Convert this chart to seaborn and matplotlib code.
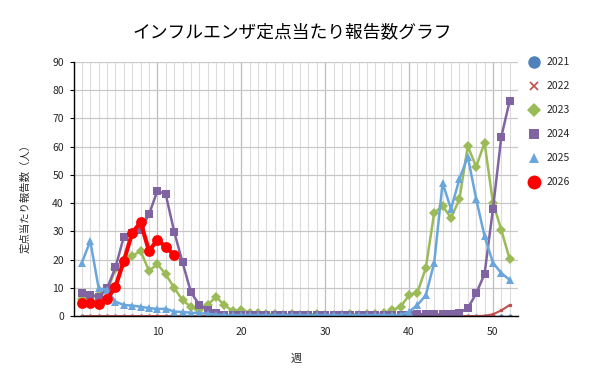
import matplotlib
matplotlib.use("Agg")
import matplotlib.pyplot as plt
from matplotlib.lines import Line2D
from matplotlib.ticker import MultipleLocator
import seaborn as sns
import pandas as pd

weeks = list(range(1, 53))

y2021 = [0, 0, 0, 0, 0, 0, 0, 0, 0, 0, 0, 0, 0, 0, 0, 0, 0, 0, 0, 0, 0, 0, 0, 0, 0, 0,
         0, 0, 0, 0, 0, 0, 0, 0, 0, 0, 0, 0, 0, 0, 0, 0, 0, 0, 0, 0, 0, 0, 0, 0, 0, 0]
y2022 = [0, 0, 0, 0, 0, 0, 0, 0, 0, 0, 0, 0, 0, 0, 0, 0, 0, 0, 0, 0, 0, 0, 0, 0, 0, 0,
         0, 0, 0, 0, 0, 0, 0, 0, 0, 0, 0, 0, 0, 0, 0, 0, 0, 0, 0, 0, 0, 0, 0.1, 0.6, 2.0, 3.9]
y2023 = [6.0, 6.8, 7.5, 8.5, 16.8, 18.9, 21.3, 23.0, 16.0, 18.4, 14.8, 10.0, 5.6, 3.3,
         2.0, 4.0, 6.8, 3.8, 1.8, 2.2, 1.2, 1.0, 0.6, 0.8, 0.4, 0.7, 0.4, 0.5, 0.7, 0.4,
         0.5, 0.4, 0.7, 0.5, 0.7, 0.6, 1.0, 2.1, 3.3, 7.4, 8.3, 17.1, 36.6, 39.0, 34.8,
         41.3, 60.2, 52.9, 61.4, 40.2, 30.5, 20.1]
y2024 = [8.3, 7.4, 6.8, 9.8, 17.2, 28.1, 29.5, 30.5, 36.0, 44.4, 43.1, 29.9, 19.0, 8.4,
         4.0, 2.3, 1.1, 0.4, 0.3, 0.2, 0.2, 0.2, 0.2, 0.2, 0.2, 0.2, 0.2, 0.2, 0.2, 0.2,
         0.3, 0.4, 0.3, 0.2, 0.2, 0.2, 0.2, 0.2, 0.2, 0.2, 0.7, 0.7, 0.6, 0.6, 0.6, 1.2,
         2.7, 8.0, 14.9, 37.9, 63.5, 76.3]
y2025 = [18.9, 26.6, 9.8, 9.3, 5.1, 3.9, 3.7, 3.3, 2.8, 2.5, 2.6, 1.6, 1.4, 1.2, 1.0,
         0.8, 0.5, 0.3, 0.3, 0.3, 0.3, 0.3, 0.3, 0.3, 0.3, 0.3, 0.3, 0.3, 0.3, 0.3, 0.3,
         0.3, 0.3, 0.3, 0.3, 0.3, 0.3, 0.3, 0.4, 1.5, 3.9, 7.4, 18.9, 47.2, 37.9, 48.5,
         56.5, 41.5, 28.3, 18.9, 15.2, 12.8]
y2026 = [4.7, 4.7, 4.1, 5.9, 10.4, 19.5, 29.5, 33.2, 23.1, 26.9, 24.6, 21.6]

years = ["2021", "2022", "2023", "2024", "2025", "2026"]
series = [y2021, y2022, y2023, y2024, y2025, y2026]

title = "インフルエンザ定点当たり報告数グラフ"
xlabel = "週"
ylabel = "定点当たり報告数（人）"

colors = {"2021": "#4f81bd", "2022": "#c0504d", "2023": "#9bbb59",
          "2024": "#8064a2", "2025": "#6aa5dc", "2026": "#ff0000"}
markers = {"2021": "o", "2022": "x", "2023": "D", "2024": "s", "2025": "^", "2026": "o"}
msizes = {"2021": 3, "2022": 2, "2023": 5.5, "2024": 5.5, "2025": 6, "2026": 7.8}
lwidths = {"2021": 1.0, "2022": 1.5, "2023": 1.8, "2024": 1.8, "2025": 1.8, "2026": 3.0}
legend_ms = {"2021": 9, "2022": 6, "2023": 7, "2024": 7, "2025": 7.5, "2026": 10}

rows = []
for yr, vals in zip(years, series):
    for w, v in zip(weeks, vals):
        rows.append({"week": w, "value": v, "year": yr})
df = pd.DataFrame(rows)

sns.set_theme(style="white")
plt.rcParams["font.family"] = ["Noto Sans CJK JP", "DejaVu Sans"]

fig = plt.figure(figsize=(6, 3.84), dpi=100)
ax = fig.add_axes([0.1225, 0.177, 0.741, 0.6615])

for i, yr in enumerate(years):
    sub = df[df["year"] == yr]
    sns.lineplot(data=sub, x="week", y="value", ax=ax, color=colors[yr],
                 marker=markers[yr], markersize=msizes[yr], linewidth=lwidths[yr],
                 markeredgewidth=0 if markers[yr] != "x" else 1,
                 markeredgecolor=colors[yr], zorder=3 + i, legend=False)

ax.set_xlim(0, 53)
ax.set_ylim(0, 90)
ax.xaxis.set_major_locator(MultipleLocator(10))
ax.xaxis.set_minor_locator(MultipleLocator(1))
ax.yaxis.set_major_locator(MultipleLocator(10))
ax.set_xticks([10, 20, 30, 40, 50])
ax.grid(which="major", axis="y", color="#c8c8c8", linewidth=0.9)
ax.grid(which="major", axis="x", color="#bdbdbd", linewidth=0.9)
ax.grid(which="minor", axis="x", color="#dcdcdc", linewidth=0.8)
ax.set_axisbelow(True)
for s in ["top", "right"]:
    ax.spines[s].set_visible(False)
for s in ["left", "bottom"]:
    ax.spines[s].set_color("black")
    ax.spines[s].set_linewidth(1.0)
    ax.spines[s].set_zorder(20)
ax.tick_params(axis="x", which="both", length=0, labelsize=7.5, pad=8)
ax.tick_params(axis="y", which="major", length=3, width=0.8, color="black",
               direction="out", left=True, labelsize=7.5, pad=4)
ax.set_xlabel("")
ax.set_ylabel("")

fig.text(0.487, 0.917, title, ha="center", va="center", fontsize=12.8,
         fontweight="normal", color="#000000")
fig.text(0.494, 0.067, xlabel, ha="center", va="center", fontsize=8)
fig.text(0.042, 0.49, ylabel, ha="center", va="center", fontsize=7.5, rotation=90)

handles = [Line2D([], [], linestyle="none", marker=markers[yr], color=colors[yr],
                  markersize=legend_ms[yr], markeredgewidth=0 if markers[yr] != "x" else 1.2)
           for yr in years]
fig.legend(handles, years, loc="upper left", bbox_to_anchor=(0.872, 0.862),
           frameon=False, fontsize=7.5, labelspacing=1.35, handletextpad=0.6,
           borderaxespad=0, handlelength=1.2)

fig.savefig("out.png", dpi=100)
